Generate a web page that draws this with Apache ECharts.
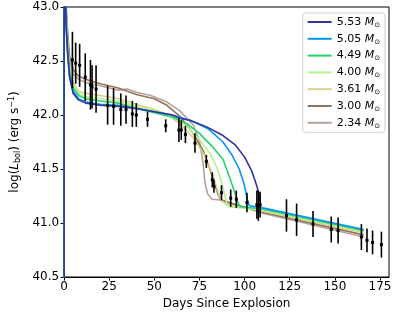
<!DOCTYPE html>
<html><head><meta charset="utf-8">
<script src="https://cdn.jsdelivr.net/npm/echarts@6/dist/echarts.min.js"></script>
<style>html,body{margin:0;padding:0;background:#fff}#c{width:397px;height:317px}</style>
</head><body><div id="c"></div>
<script>
// ---- data ----
const massLabels = ['5.53', '5.05', '4.49', '4.00', '3.61', '3.00', '2.34'];
const lineColors = ['#333399', '#0396fc', '#24d36d', '#b6f08a', '#dad085', '#91735e', '#b6a29d'];

const m553 = [[0,40.0],[0,44],[1,42.85],[2,42.55],[3,42.35],[5,42.2],[8,42.14],[12,42.11],[20,42.09],[30,42.08],[40,42.06],[50,42.03],[60,42.0],[64,41.97],[70,41.95],[79,41.89],[88,41.81],[95,41.72],[100,41.61],[104,41.48],[107,41.33],[108.3,41.24],[108.8,41.15]];
const m505 = [[0,40.0],[0,44],[1,42.87],[2,42.57],[3,42.37],[5,42.22],[8,42.15],[12,42.12],[20,42.1],[30,42.09],[40,42.06],[50,42.03],[60,42.0],[70,41.95],[80,41.87],[88,41.75],[93,41.63],[97,41.5],[99.7,41.36],[101.5,41.22],[102.5,41.16],[110,41.14],[166,40.94]];
const m449 = [[0,40.0],[0,44],[1,42.9],[2,42.6],[3,42.4],[5,42.25],[8,42.18],[12,42.15],[20,42.13],[30,42.11],[40,42.06],[50,42.02],[60,41.98],[68,41.92],[75,41.83],[82,41.71],[88,41.59],[91.5,41.43],[94,41.31],[96,41.2],[97.5,41.15],[110,41.13],[166,40.93]];
const m400 = [[0,40.0],[0,44],[1,42.92],[2,42.62],[3,42.42],[5,42.27],[8,42.2],[12,42.17],[20,42.15],[30,42.13],[40,42.08],[50,42.04],[60,41.99],[68,41.9],[75,41.77],[81,41.64],[85,41.5],[88,41.33],[89.7,41.21],[91,41.15],[110,41.12],[166,40.92]];
const m361 = [[0,40.0],[0,44],[1,42.95],[2,42.66],[3,42.45],[5,42.3],[8,42.22],[12,42.2],[20,42.18],[30,42.15],[40,42.1],[50,42.05],[57,42.01],[64,41.92],[71.5,41.79],[78,41.62],[82.5,41.44],[85.2,41.29],[87,41.21],[90,41.17],[110,41.11],[166,40.91]];
const m300 = [[0,40.0],[0,44],[1,43.05],[2,42.75],[3,42.55],[5,42.42],[8,42.36],[12,42.33],[20,42.29],[30,42.25],[40,42.19],[50,42.15],[57,42.09],[64,41.99],[71.5,41.83],[77,41.67],[80.6,41.51],[83.3,41.36],[85.2,41.27],[87,41.21],[95,41.17],[110,41.1],[166,40.89]];
const m234 = [[0,40.0],[0,44],[1,43.0],[2,42.7],[3,42.5],[5,42.38],[8,42.33],[12,42.3],[20,42.27],[30,42.23],[35,42.24],[40,42.21],[48,42.18],[57,42.12],[64,42.04],[71.5,41.91],[75,41.76],[77,41.55],[78,41.38],[79.5,41.27],[82,41.22],[88,41.21],[95,41.17],[110,41.09],[166,40.87]];

const obsDays = [4.6,6.4,8.6,11.7,14.6,15.5,17.7,24.1,27.4,31.4,34.3,37.8,40.0,46.2,56.3,63.6,64.9,67.2,72.5,78.8,82.1,83,87.2,92.3,95.4,101.3,106.8,107.6,108.6,123.2,128.8,137.9,148,151.8,164.7,167.8,170.9,175.8];
const obsLum = [42.51,42.48,42.46,42.35,42.28,42.26,42.24,42.09,42.08,42.05,42.05,42.01,42.0,41.96,41.9,41.86,41.86,41.82,41.74,41.57,41.4,41.34,41.28,41.23,41.22,41.19,41.17,41.16,41.17,41.07,41.03,40.99,40.94,40.93,40.87,40.84,40.82,40.8];
const obsErr = [0.26,0.19,0.2,0.22,0.23,0.2,0.22,0.18,0.17,0.15,0.13,0.12,0.11,0.07,0.06,0.11,0.09,0.08,0.09,0.06,0.07,0.06,0.07,0.08,0.08,0.09,0.13,0.14,0.12,0.15,0.15,0.12,0.12,0.12,0.12,0.11,0.11,0.12];

const xTicks = [0,25,50,75,100,125,150,175];
const yTicks = [40.5,41.0,41.5,42.0,42.5,43.0];

// ---- chart ----
const models = [m553, m505, m449, m400, m361, m300, m234];
const FONT = 'DejaVu Sans';
const chart = echarts.init(document.getElementById('c'), null, {renderer: 'canvas'});

const lineSeries = models.map((d, i) => ({
  name: massLabels[i], type: 'line', data: d, showSymbol: false, symbol: 'none',
  lineStyle: {color: lineColors[i], width: 1.6}, itemStyle: {color: lineColors[i]},
  clip: true, z: 2 + (6 - i) * 0.01, animation: false
}));

const obs = obsDays.map((d, i) => [d, obsLum[i], obsErr[i]]);

const errSeries = {
  type: 'custom', data: obs, z: 5, clip: true, animation: false,
  renderItem: function (params, api) {
    const x = api.value(0), y = api.value(1), e = api.value(2);
    const lo = api.coord([x, y - e]), hi = api.coord([x, y + e]), c = api.coord([x, y]);
    return {type: 'group', children: [
      {type: 'line', shape: {x1: lo[0], y1: lo[1], x2: hi[0], y2: hi[1]}, style: {stroke: '#000', lineWidth: 1.6}},
      {type: 'rect', shape: {x: c[0] - 1.5, y: c[1] - 1.5, width: 3, height: 3}, style: {fill: '#000'}}
    ]};
  }
};

chart.setOption({
  animation: false,
  textStyle: {fontFamily: FONT},
  grid: {left: 59, right: 8, top: 7, bottom: 40, show: true, borderColor: '#000', borderWidth: 1, backgroundColor: 'transparent'},
  legend: {
    data: massLabels.map((n, i) => ({name: n, icon: 'rect', itemStyle: {color: lineColors[i]}})),
    orient: 'vertical', right: 12, top: 13, itemWidth: 24, itemHeight: 2, itemGap: 4.3,
    padding: [3, 5, 3, 5], borderColor: '#d0d0d0', borderWidth: 1, borderRadius: 3, backgroundColor: '#fff',
    formatter: n => '{n|' + n + ' }{m|M}{s|⊙}',
    textStyle: {fontFamily: FONT, fontSize: 11, color: '#000', lineHeight: 12,
      rich: {n: {fontFamily: FONT, fontSize: 11, color: '#000'},
             m: {fontFamily: FONT, fontSize: 11, fontStyle: 'italic', color: '#000'},
             s: {fontFamily: FONT, fontSize: 7, color: '#000', padding: [6, 0, 0, 0]}}}
  },
  xAxis: {
    type: 'value', min: 0, max: 180, interval: 25,
    name: 'Days Since Explosion', nameLocation: 'middle', nameGap: 14,
    nameTextStyle: {fontFamily: FONT, fontSize: 12, color: '#000'},
    axisLine: {onZero: false, lineStyle: {color: '#000', width: 1}},
    axisTick: {show: true, inside: false, length: 3.5, lineStyle: {color: '#000'}, customValues: xTicks},
    axisLabel: {fontFamily: FONT, fontSize: 12, color: '#000', margin: 4, customValues: xTicks},
    splitLine: {show: false}
  },
  yAxis: {
    type: 'value', min: 40.5, max: 43.0, interval: 0.5,
    name: '{t|log(}{i|L}{b|bol}{t|) (erg s}{p|−1}{t|)}', nameLocation: 'middle', nameGap: 40, nameRotate: 90,
    nameTextStyle: {fontFamily: FONT, fontSize: 12, color: '#000',
      rich: {t: {fontFamily: FONT, fontSize: 12, color: '#000'},
             i: {fontFamily: FONT, fontSize: 12, fontStyle: 'italic', color: '#000'},
             b: {fontFamily: FONT, fontSize: 8, color: '#000', padding: [5, 0, 0, 0]},
             p: {fontFamily: FONT, fontSize: 8, color: '#000', padding: [0, 0, 6, 0]}}},
    axisLine: {onZero: false, lineStyle: {color: '#000', width: 1}},
    axisTick: {show: true, inside: false, length: 3.5, lineStyle: {color: '#000'}, customValues: yTicks},
    axisLabel: {fontFamily: FONT, fontSize: 12, color: '#000', margin: 5, customValues: yTicks, formatter: v => v.toFixed(1)},
    splitLine: {show: false}
  },
  series: lineSeries.concat([errSeries])
});
</script></body></html>
